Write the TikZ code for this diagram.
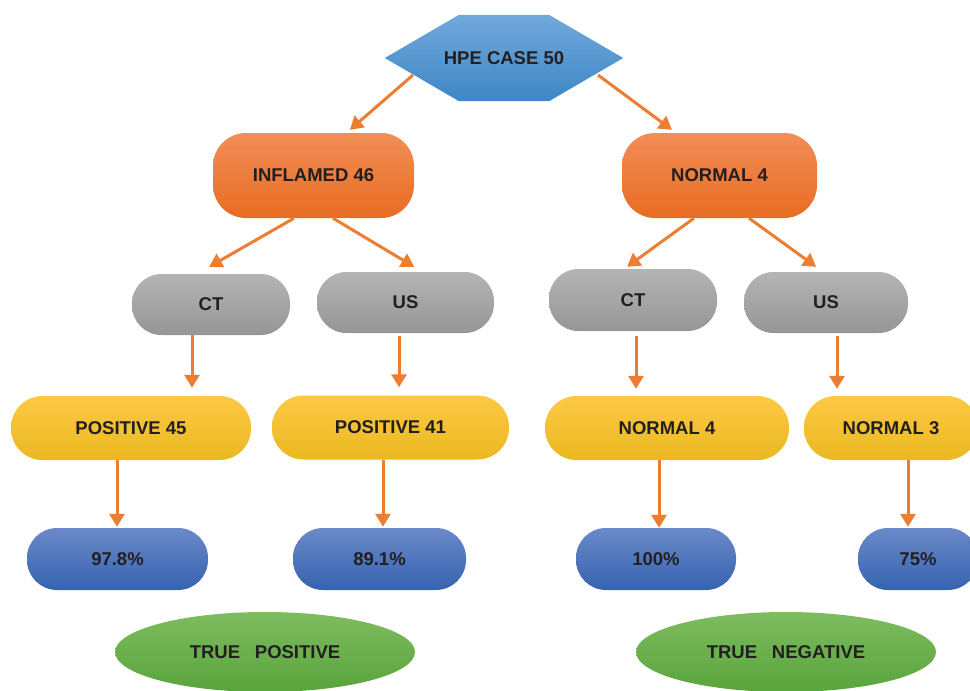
\documentclass[tikz,border=0pt]{standalone}
\usepackage{fontspec}
\setmainfont{Liberation Sans}
\usetikzlibrary{arrows.meta,shapes.geometric,backgrounds}
\definecolor{txtdark}{HTML}{231F20}
\definecolor{arrorange}{HTML}{ED7D31}
\definecolor{hexTop}{HTML}{72A9DB}
\definecolor{hexBot}{HTML}{3D86C6}
\definecolor{orTop}{HTML}{F28E57}
\definecolor{orMid}{HTML}{F07A2A}
\definecolor{orBot}{HTML}{E86C22}
\definecolor{grTop}{HTML}{B4B4B4}
\definecolor{grBot}{HTML}{969696}
\definecolor{yeTop}{HTML}{FDC945}
\definecolor{yeMid}{HTML}{FDC811}
\definecolor{yeBot}{HTML}{EAB820}
\definecolor{blTop}{HTML}{6A89C9}
\definecolor{blBot}{HTML}{3563AF}
\definecolor{gnTop}{HTML}{7EBC60}
\definecolor{gnBot}{HTML}{59A43B}

\begin{document}
\begin{tikzpicture}[x=1pt, y=-1pt]
	\tikzstyle{every node} = [font=\fontsize{18.5}{22}\selectfont\bfseries, text=txtdark, inner sep=0pt]
	\tikzstyle{hexbox} = [rectangle, minimum width=238pt, minimum height=86pt]
	\tikzstyle{orangebox} = [rectangle, rounded corners=33pt, top color=orTop, middle color=orMid, bottom color=orBot, minimum height=85pt]
	\tikzstyle{greybox} = [rectangle, rounded corners=29.5pt, top color=grTop, bottom color=grBot, minimum height=61pt]
	\tikzstyle{yellowbox} = [rectangle, rounded corners=31.5pt, top color=yeTop, middle color=yeMid, bottom color=yeBot, minimum height=64pt]
	\tikzstyle{bluebox} = [rectangle, rounded corners=30pt, top color=blTop, bottom color=blBot, minimum height=62pt]
	\tikzstyle{greenoval} = [ellipse, top color=gnTop, bottom color=gnBot, minimum width=300pt, minimum height=80pt]
	\tikzstyle{arr} = [draw=arrorange, line width=3pt, -{Triangle[width=15pt,length=13pt]}]
	\useasboundingbox (0,0) rectangle (970,691);
	\clip (0,0) rectangle (970,691);
	\node[hexbox] (hpe) at (504,58) {HPE CASE 50};
	\begin{scope}[on background layer]
		\shade[top color=hexTop, bottom color=hexBot] (hpe.west) -- ([xshift=-45pt]hpe.north) -- ([xshift=45pt]hpe.north)
			-- (hpe.east) -- ([xshift=45pt]hpe.south) -- ([xshift=-45pt]hpe.south) -- cycle;
	\end{scope}
	\node[orangebox, minimum width=201pt] (inflamed) at (313.5,175.5) {INFLAMED 46};
	\node[orangebox, minimum width=195pt] (normo) at (719.5,175.5) {NORMAL 4};
	\node[greybox, minimum width=158pt] (ctl) at (211,304.5) {CT};
	\node[greybox, minimum width=177pt] (usl) at (405.5,302.5) {US};
	\node[greybox, minimum width=168pt, minimum height=62pt] (ctr) at (633,300) {CT};
	\node[greybox, minimum width=164pt] (usr) at (826,302.5) {US};
	\node[yellowbox, minimum width=240pt] (pos45) at (131,428) {POSITIVE 45};
	\node[yellowbox, minimum width=237pt] (pos41) at (390.5,427.5) {POSITIVE 41};
	\node[yellowbox, minimum width=244pt] (norm4) at (667,428) {NORMAL 4};
	\node[yellowbox, minimum width=174pt] (norm3) at (891,428) {NORMAL 3};
	\node[bluebox, minimum width=181pt] (pctl) at (117.5,559) {97.8\%};
	\node[bluebox, minimum width=173pt] (pusl) at (379.5,559) {89.1\%};
	\node[bluebox, minimum width=160pt] (pctr) at (656,559) {100\%};
	\node[bluebox, minimum width=120pt] (pusr) at (918,559) {75\%};
	\node[greenoval] (tpos) at (265,652) {TRUE\hspace{0.8em}POSITIVE};
	\node[greenoval] (tneg) at (786,652) {TRUE\hspace{0.8em}NEGATIVE};
	\draw[arr, shorten >=4.5pt] ([xshift=-91pt,yshift=-17pt]hpe.center) -- ([xshift=33pt]inflamed.north);
	\draw[arr, shorten >=5pt] ([xshift=94pt,yshift=-17pt]hpe.center) -- ([xshift=-43.5pt]normo.north);
	\draw[arr, shorten >=14pt] ([xshift=-19.5pt]inflamed.south) -- ([xshift=-14pt]ctl.north);
	\draw[arr, shorten >=9.7pt] ([xshift=19.5pt]inflamed.south) -- ([xshift=17pt]usl.north);
	\draw[arr, shorten >=3.4pt] ([xshift=-25.5pt]normo.south) -- ([xshift=-8.7pt]ctr.north);
	\draw[arr, shorten >=8.4pt] ([xshift=29.5pt]normo.south) -- ([xshift=-3pt]usr.north);
	\draw[arr, shorten >=8pt] ([xshift=-19pt]ctl.south) -- ([xshift=-19pt]ctl.south |- pos45.north);
	\draw[arr, shorten <=3pt, shorten >=8pt] ([xshift=-6.5pt]usl.south) -- ([xshift=-6.5pt]usl.south |- pos41.north);
	\draw[arr, shorten <=5pt, shorten >=7pt] ([xshift=3pt]ctr.south) -- ([xshift=3pt]ctr.south |- norm4.north);
	\draw[arr, shorten <=3pt, shorten >=7pt] ([xshift=11pt]usr.south) -- ([xshift=11pt]usr.south |- norm3.north);
	\draw[arr, shorten >=1pt] ([xshift=-14pt]pos45.south) -- ([xshift=-14pt]pos45.south |- pctl.north);
	\draw[arr, shorten >=1pt] ([xshift=-7.5pt]pos41.south) -- ([xshift=-7.5pt]pos41.south |- pusl.north);
	\draw[arr] ([xshift=-8pt]norm4.south) -- ([xshift=-8pt]norm4.south |- pctr.north);
	\draw[arr, shorten >=1pt] ([xshift=17pt]norm3.south) -- ([xshift=17pt]norm3.south |- pusr.north);
\end{tikzpicture}
\end{document}
